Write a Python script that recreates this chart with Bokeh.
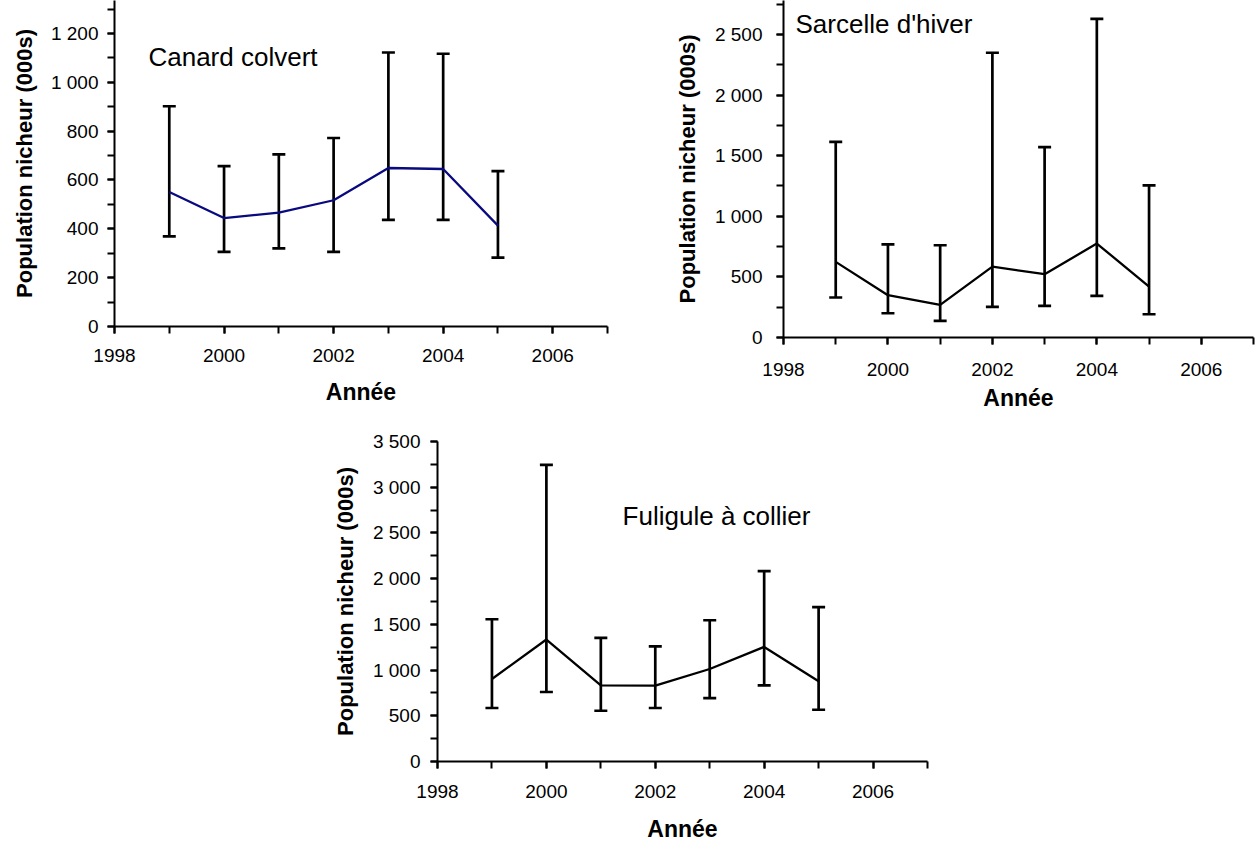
from bokeh.plotting import figure
from bokeh.models import (ColumnDataSource, Whisker, TeeHead, Range1d, SingleIntervalTicker,
                          CustomJSTickFormatter, Label)
from bokeh.layouts import column, row
from bokeh.embed import file_html
from bokeh.resources import INLINE

# ---------------- data ----------------
years = [1999, 2000, 2001, 2002, 2003, 2004, 2005]

colvert_mean = [551, 444, 466, 517, 649, 645, 413]
colvert_low = [369, 306, 320, 306, 437, 437, 282]
colvert_high = [902, 657, 705, 772, 1122, 1117, 636]

sarcelle_mean = [624, 349, 269, 585, 522, 775, 420]
sarcelle_low = [330, 200, 137, 253, 261, 343, 192]
sarcelle_high = [1613, 769, 761, 2349, 1571, 2629, 1255]

fuligule_mean = [902, 1334, 833, 829, 1012, 1253, 877]
fuligule_low = [585, 760, 555, 585, 694, 833, 566]
fuligule_high = [1556, 3244, 1352, 1260, 1545, 2083, 1688]

titles = ["Canard colvert", "Sarcelle d'hiver", "Fuligule à collier"]
y_label = "Population nicheur (000s)"
x_label = "Année"

FONT = "Liberation Sans"

fmt_js = "return tick.toFixed(0).replace(/\\B(?=(\\d{3})+(?!\\d))/g, ' ');"


def make_panel(mean, low, high, title, ymax, yint, line_color,
               fw, fh, bl, br, bt, bb, title_x, title_y,
               xstand, ystand, xlab_stand, ylab_stand):
    p = figure(frame_width=fw, frame_height=fh,
               min_border_left=bl, min_border_right=br,
               min_border_top=bt, min_border_bottom=bb,
               x_range=Range1d(1998, 2007), y_range=Range1d(0, ymax),
               output_backend="svg", toolbar_location=None,
               background_fill_color="white", border_fill_color="white")
    p.outline_line_color = None
    p.grid.visible = False

    src = ColumnDataSource(dict(x=years, y=mean, lo=low, hi=high))
    p.line("x", "y", source=src, line_color=line_color, line_width=2.3)
    w = Whisker(source=src, base="x", lower="lo", upper="hi",
                line_color="black", line_width=2.7,
                upper_head=TeeHead(size=13, line_width=2.7, line_color="black"),
                lower_head=TeeHead(size=13, line_width=2.7, line_color="black"))
    p.add_layout(w)

    p.xaxis.ticker = SingleIntervalTicker(interval=2, num_minor_ticks=2)
    p.yaxis.ticker = SingleIntervalTicker(interval=yint, num_minor_ticks=2)
    p.yaxis.formatter = CustomJSTickFormatter(code=fmt_js)

    for ax in (p.xaxis[0], p.yaxis[0]):
        ax.axis_line_width = 2
        ax.axis_line_color = "black"
        ax.major_tick_line_width = 2
        ax.minor_tick_line_width = 2
        ax.major_tick_line_color = "black"
        ax.minor_tick_line_color = "black"
        ax.major_tick_in = 0
        ax.minor_tick_in = 0
        ax.major_tick_out = 7
        ax.minor_tick_out = 7
        ax.major_label_text_font = FONT
        ax.major_label_text_font_size = "19px"
        ax.major_label_text_color = "black"
        ax.axis_label_text_font = FONT
        ax.axis_label_text_font_style = "bold"
        ax.axis_label_text_color = "black"

    p.xaxis.axis_label = x_label
    p.xaxis.axis_label_text_font_size = "23px"
    p.xaxis.major_label_standoff = xstand
    p.xaxis.axis_label_standoff = xlab_stand
    p.yaxis.axis_label = y_label
    p.yaxis.axis_label_text_font_size = "22px"
    p.yaxis.major_label_standoff = ystand
    p.yaxis.axis_label_standoff = ylab_stand

    p.add_layout(Label(x=title_x, y=title_y, text=title, text_font=FONT,
                       text_font_size="26px", text_color="black",
                       text_baseline="middle", text_align="left"))
    return p


p1 = make_panel(colvert_mean, colvert_low, colvert_high, titles[0], 1335, 200, "#0a0a80",
                fw=493, fh=326, bl=114, br=30, bt=0, bb=93,
                title_x=1998.62, title_y=1105,
                xstand=15, ystand=9, xlab_stand=14, ylab_stand=11)
p2 = make_panel(sarcelle_mean, sarcelle_low, sarcelle_high, titles[1], 2780, 500, "black",
                fw=470, fh=337, bl=146, br=3, bt=0, bb=82,
                title_x=1998.23, title_y=2590,
                xstand=18, ystand=14, xlab_stand=6, ylab_stand=12)
p3 = make_panel(fuligule_mean, fuligule_low, fuligule_high, titles[2], 3500, 500, "black",
                fw=490, fh=320, bl=437, br=5, bt=22, bb=80,
                title_x=2001.4, title_y=2690,
                xstand=16, ystand=10, xlab_stand=15, ylab_stand=12)

layout = column(row(p1, p2), p3)

open("out.html", "w").write(file_html(layout, INLINE))
